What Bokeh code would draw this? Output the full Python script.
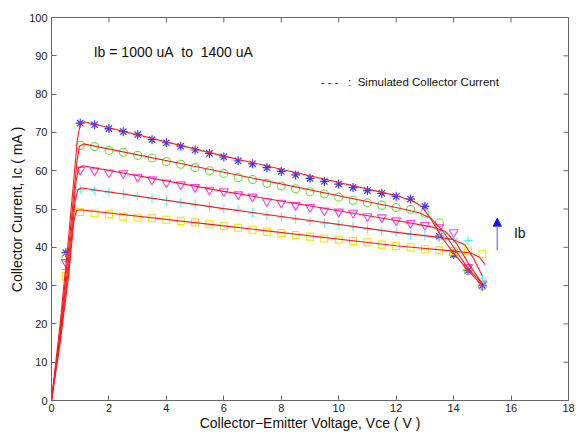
import math
from bokeh.plotting import figure
from bokeh.models import Range1d, FixedTicker, Label, Arrow, NormalHead
from bokeh.embed import file_html
from bokeh.resources import INLINE

# ---------------- data ----------------
vce = [0.5, 1.0, 1.5, 2.0, 2.5, 3.0, 3.5, 4.0, 4.5, 5.0, 5.5, 6.0, 6.5, 7.0, 7.5,
       8.0, 8.5, 9.0, 9.5, 10.0, 10.5, 11.0, 11.5, 12.0, 12.5, 13.0, 13.5, 14.0, 14.5, 15.0]

ic_1400 = [38.6, 72.4, 72.0, 71.0, 70.2, 69.4, 68.1, 67.3, 66.4, 65.4, 64.5, 63.6, 62.6, 61.8, 60.8,
           59.8, 58.9, 58.0, 57.2, 56.5, 55.6, 54.8, 54.1, 53.3, 52.6, 50.7, 42.9, 38.1, 33.9, 30.0]
ic_1300 = [37.3, 66.6, 66.3, 65.3, 64.8, 64.0, 63.3, 62.4, 61.7, 60.8, 60.0, 59.3, 58.2, 57.7, 56.7,
           56.0, 55.3, 54.5, 53.9, 53.1, 52.3, 51.6, 51.0, 50.4, 49.9, 48.9, 46.4, 38.3, 34.0, 29.8]
ic_1200 = [36.1, 60.2, 60.0, 59.5, 59.3, 58.4, 57.7, 56.9, 56.4, 55.7, 55.0, 54.6, 53.8, 53.2, 52.0,
           51.6, 51.0, 50.5, 49.6, 49.3, 49.0, 48.1, 47.8, 47.0, 46.3, 45.8, 45.2, 43.9, 34.8, 30.5]
ic_1100 = [34.2, 55.0, 54.8, 54.4, 54.0, 53.3, 52.7, 52.2, 51.7, 51.1, 50.7, 50.0, 49.8, 49.0, 48.3,
           47.9, 47.3, 46.8, 46.3, 46.0, 45.4, 44.8, 44.4, 44.0, 43.3, 43.1, 42.6, 42.2, 41.8, 32.0]
ic_1000 = [32.4, 49.2, 48.9, 48.6, 48.0, 47.8, 47.6, 47.2, 46.9, 46.5, 46.0, 45.5, 45.1, 44.6, 44.1,
           43.7, 43.2, 42.8, 42.3, 42.0, 41.6, 41.3, 40.7, 40.3, 40.0, 39.5, 39.2, 39.0, 38.9, 38.3]

# simulated collector current curves
sim_vce_1400 = [0, 0.3, 0.6, 0.9, 1.0, 1.15, 6.0, 12.0, 12.6, 12.9, 13.2, 13.6, 14.0, 14.5, 15.0]
sim_ic_1400 = [0, 20, 43, 68, 72.2, 72.8, 63.8, 53.5, 52.0, 50.6, 47.5, 42.5, 38.5, 34.0, 30.0]
sim_vce_1300 = [0, 0.3, 0.6, 0.88, 0.97, 1.12, 6.0, 12.0, 12.8, 13.2, 13.6, 14.0, 14.5, 15.0]
sim_ic_1300 = [0, 18, 40, 62, 66.4, 67.0, 59.6, 50.4, 49.0, 47.6, 44.5, 40.0, 34.5, 30.5]
sim_vce_1200 = [0, 0.3, 0.6, 0.85, 0.95, 1.1, 6.0, 12.0, 13.2, 13.7, 14.1, 14.5, 15.0]
sim_ic_1200 = [0, 17, 37, 57, 60.8, 61.3, 54.6, 47.0, 45.4, 44.2, 41.0, 36.0, 30.5]
sim_vce_1100 = [0, 0.3, 0.6, 0.82, 0.92, 1.05, 6.0, 12.0, 13.5, 14.0, 14.4, 14.7, 15.0]
sim_ic_1100 = [0, 16, 35, 52, 55.0, 55.5, 50.1, 43.9, 42.6, 42.0, 40.6, 37.0, 32.5]
sim_vce_1000 = [0, 0.3, 0.6, 0.78, 0.87, 1.0, 6.0, 12.0, 14.0, 14.6, 14.9, 15.1]
sim_ic_1000 = [0, 15, 33, 47, 49.6, 49.8, 45.6, 40.4, 39.0, 38.5, 37.4, 35.5]

x_ticks = [0, 2, 4, 6, 8, 10, 12, 14, 16, 18]
y_ticks = [0, 10, 20, 30, 40, 50, 60, 70, 80, 90, 100]

FONT = "Liberation Sans"
AXIS_COLOR = "#666666"
X0, X1, Y0, Y1 = 0, 18, 100, 0
B_LEFT, B_RIGHT, B_TOP, B_BOTTOM = 51, 13, 17, 35
W, H = 581, 435
TICK = 5

p = figure(width=W, height=H, x_range=Range1d(0, 18), y_range=Range1d(0, 100),
           output_backend="svg", toolbar_location=None,
           min_border_left=B_LEFT, min_border_right=B_RIGHT,
           min_border_top=B_TOP, min_border_bottom=B_BOTTOM)
p.xgrid.visible = False
p.ygrid.visible = False
p.outline_line_color = AXIS_COLOR
p.background_fill_color = "white"
p.border_fill_color = "white"

for ax, ticks in [(p.xaxis[0], x_ticks), (p.yaxis[0], y_ticks)]:
    ax.ticker = FixedTicker(ticks=ticks)
    ax.axis_line_color = AXIS_COLOR
    ax.major_tick_line_color = AXIS_COLOR
    ax.major_tick_in = TICK
    ax.major_tick_out = 0
    ax.minor_tick_line_color = None
    ax.major_label_text_font = FONT
    ax.major_label_text_font_size = "11px"
    ax.major_label_text_color = "#222222"
    ax.axis_label_text_font = FONT
    ax.axis_label_text_font_size = "14px"
    ax.axis_label_text_font_style = "normal"
    ax.axis_label_text_color = "#111111"

p.xaxis[0].major_label_standoff = 3
p.xaxis[0].axis_label = "Collector\u2212Emitter Voltage, Vce ( V )"
p.xaxis[0].axis_label_standoff = 0
p.yaxis[0].major_label_standoff = 4
p.yaxis[0].axis_label = "Collector Current, Ic ( mA )"
p.yaxis[0].axis_label_standoff = 1

# inward ticks on the top and right edges of the box (lengths in data units = TICK px)
plot_w = W - B_LEFT - B_RIGHT
plot_h = H - B_TOP - B_BOTTOM
dy_tick = TICK * 100.0 / plot_h
dx_tick = TICK * 18.0 / plot_w
p.segment(x0=x_ticks, y0=[100] * len(x_ticks), x1=x_ticks, y1=[100 - dy_tick] * len(x_ticks),
          line_color=AXIS_COLOR, line_width=1)
p.segment(x0=[18] * len(y_ticks), y0=y_ticks, x1=[18 - dx_tick] * len(y_ticks), y1=y_ticks,
          line_color=AXIS_COLOR, line_width=1)

# measured markers
p.scatter(vce, ic_1400, marker="asterisk", size=9, line_color="#3a3aff", line_width=1.2)
p.scatter(vce, ic_1300, marker="circle", size=8, line_color="#6ddc3c", fill_color=None, line_width=1.1)
p.scatter(vce, ic_1200, marker="inverted_triangle", size=9, line_color="#ff3cff", fill_color=None, line_width=1.1)
p.scatter(vce, ic_1100, marker="cross", size=9, line_color="#4cf4f4", line_width=1.1)
p.scatter(vce, ic_1000, marker="square", size=7, line_color="#f2e600", fill_color=None, line_width=1.1)

# simulated curves
for xs, ys in [(sim_vce_1400, sim_ic_1400), (sim_vce_1300, sim_ic_1300), (sim_vce_1200, sim_ic_1200),
               (sim_vce_1100, sim_ic_1100), (sim_vce_1000, sim_ic_1000)]:
    p.line(xs, ys, line_color="#ff1a1a", line_width=1.1)

NB = "\u00a0"
p.add_layout(Label(x=1.47, y=90.9, text="Ib = 1000 uA" + NB + NB + "to" + NB + NB + "1400 uA",
                   text_font=FONT, text_font_size="14px", text_color="#111111",
                   text_baseline="alphabetic", text_align="left"))
p.add_layout(Label(x=9.37, y=83.2, text="- - -" + NB * 3 + ":" + NB * 2 + "Simulated Collector Current",
                   text_font=FONT, text_font_size="11.5px", text_color="#111111",
                   text_baseline="alphabetic", text_align="left"))
p.add_layout(Label(x=16.1, y=43.7, text="Ib", text_font=FONT, text_font_size="14px",
                   text_color="#111111", text_baseline="alphabetic", text_align="left"))
p.add_layout(Arrow(end=NormalHead(size=8, fill_color="#1010ff", line_color="#1010ff"),
                   x_start=15.52, y_start=39.2, x_end=15.52, y_end=47.6,
                   line_color="#8c8cff", line_width=1.5))

open("out.html", "w").write(file_html(p, INLINE))
